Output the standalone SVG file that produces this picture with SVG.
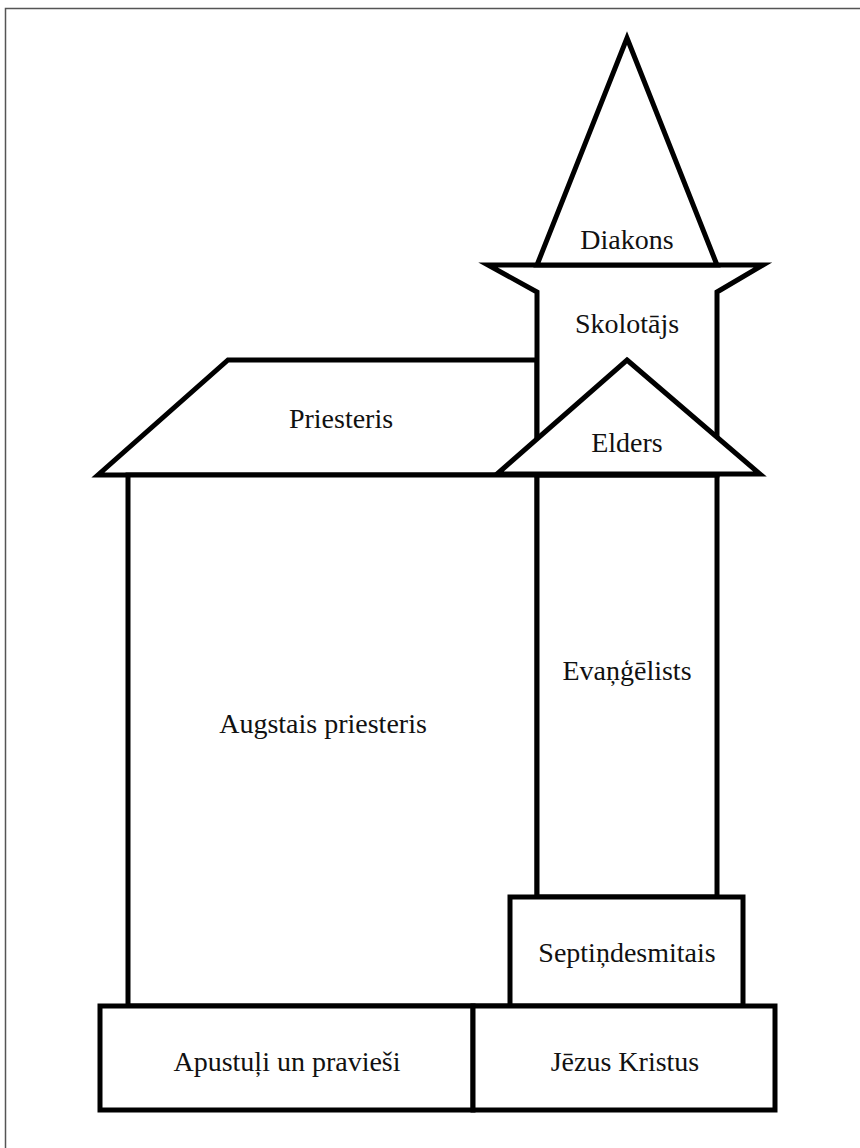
<svg xmlns="http://www.w3.org/2000/svg" width="860" height="1148" viewBox="0 0 860 1148">
<style>
.s{fill:#fff;stroke:#000;stroke-width:5;stroke-linejoin:miter;stroke-miterlimit:10}
.t{font-family:"Liberation Serif","DejaVu Serif",serif;font-size:28px;fill:#111;text-anchor:middle}
</style>
<rect width="860" height="1148" fill="#fff"/>
<path d="M5.5,1148 V8.5 H860" fill="none" stroke="#555" stroke-width="1.5"/>
<g id="priesteris">
<polygon class="s" points="228,360 537,360 537,475 98,475"/>
<text class="t" x="341" y="428">Priesteris</text>
</g>
<g id="augstais-priesteris">
<rect class="s" x="128" y="475" width="409" height="531"/>
<text class="t" x="323" y="733">Augstais priesteris</text>
</g>
<g id="evangelists">
<rect class="s" x="537" y="475" width="180" height="422"/>
<text class="t" x="627" y="680">Evaņģēlists</text>
</g>
<g id="skolotajs">
<polygon class="s" points="488,265 763,265 717,292 717,475 537,475 537,292"/>
<text class="t" x="627" y="333">Skolotājs</text>
</g>
<g id="diakons">
<polygon class="s" points="627,38 717,265 537,265"/>
<text class="t" x="627" y="249">Diakons</text>
</g>
<g id="elders">
<polygon class="s" points="627,360 760,474 497,474"/>
<text class="t" x="627" y="452">Elders</text>
</g>
<g id="septindesmitais">
<rect class="s" x="510" y="897" width="233" height="109"/>
<text class="t" x="627" y="962">Septiņdesmitais</text>
</g>
<g id="apustuli">
<rect class="s" x="100" y="1006" width="373" height="104"/>
<text class="t" x="287" y="1071">Apustuļi un pravieši</text>
</g>
<g id="jezus">
<rect class="s" x="473" y="1006" width="302" height="104"/>
<text class="t" x="625" y="1071">Jēzus Kristus</text>
</g>
<g id="connectors"></g>
</svg>
